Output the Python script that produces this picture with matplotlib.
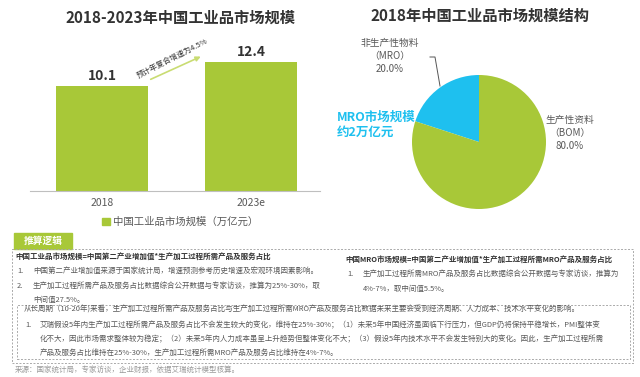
import matplotlib
matplotlib.use('Agg')
import matplotlib.pyplot as plt
from matplotlib.patches import Rectangle, Patch

plt.rcParams['font.family'] = ['Noto Sans CJK SC', 'DejaVu Sans']

# Data
years = ['2018', '2023e']
market_size = [10.1, 12.4]
bar_legend = '中国工业品市场规模（万亿元）'
cagr_note = '预计年复合增速为4.5%'

pie_labels = ['非生产性物料\n（MRO）', '生产性资料\n（BOM）']
pie_shares = [20.0, 80.0]

W, H = 640, 377
GREEN = '#a8c838'
BLUE = '#1ec0ef'
DARK = '#333333'
GRAY = '#595959'


def fx(x):
    return x / W


def fy(y):
    return 1 - y / H


fig = plt.figure(figsize=(6.4, 3.77), dpi=100)

# Left: bar chart
ax = fig.add_axes([fx(30), fy(191), fx(290), (191 - 45) / H])
xpos = range(len(years))
ax.bar(xpos, market_size, width=0.62, color=GREEN, label=bar_legend)
ax.set_xlim(-0.483, 1.463)
ax.set_ylim(0, 14)
ax.set_yticks([])
ax.set_xticks(list(xpos))
ax.set_xticklabels(years, color=GRAY, fontsize=7.5)
ax.tick_params(axis='x', length=0, pad=5)
for s in ['top', 'right', 'left']:
    ax.spines[s].set_visible(False)
ax.spines['bottom'].set_color('#bfbfbf')
for i, v in enumerate(market_size):
    ax.text(i, v + 0.25, f'{v}', ha='center', va='bottom', fontsize=10,
            fontweight='bold', color=DARK)
ax.annotate('', xy=(0.68, 13.0), xytext=(0.31, 10.6),
            arrowprops=dict(arrowstyle='-|>', color='#c9dc72', lw=1.2,
                            mutation_scale=7))
ax.text(0.47, 12.75, cagr_note, rotation=27, ha='center', va='center',
        fontsize=5.5, color=DARK)
ax.legend(handles=[Patch(color=GREEN, label=bar_legend)], loc='center',
          bbox_to_anchor=(fx(180), fy(222)), bbox_transform=fig.transFigure,
          frameon=False, fontsize=7.5, handlelength=0.8, handleheight=0.8,
          handletextpad=0.3, labelcolor=GRAY)
fig.text(fx(180), fy(18), '2018-2023年中国工业品市场规模', ha='center',
         va='center', fontsize=11, fontweight='bold', color=DARK)

# Right: pie chart
pax = fig.add_axes([fx(412), fy(209), fx(134), 134 / H])
pax.pie(pie_shares, colors=[BLUE, GREEN], startangle=90, counterclock=True,
        radius=1.0)
pax.set_xlim(-1, 1)
pax.set_ylim(-1, 1)
fig.text(fx(480), fy(16), '2018年中国工业品市场规模结构', ha='center',
         va='center', fontsize=11, fontweight='bold', color=DARK)
fig.text(fx(390), fy(56), f'{pie_labels[0]}\n{pie_shares[0]:.1f}%',
         ha='center', va='center', fontsize=7, color=GRAY, linespacing=1.35)
fig.text(fx(570), fy(133), f'{pie_labels[1]}\n{pie_shares[1]:.1f}%',
         ha='center', va='center', fontsize=7, color=GRAY, linespacing=1.35)
fig.add_artist(plt.Line2D([fx(440), fx(435), fx(430)],
                          [fy(86), fy(57), fy(57)], color='#555555', lw=0.7))
fig.text(fx(337), fy(125), 'MRO市场规模\n约2万亿元', ha='left', va='center',
         fontsize=9, fontweight='bold', color=BLUE, linespacing=1.2)

# Bottom: logic box
dash = (0, (2.0, 1.6))
fig.add_artist(Rectangle((fx(14), fy(249)), fx(58), 16 / H, color=GREEN,
                         transform=fig.transFigure))
fig.text(fx(43), fy(241), '推算逻辑', ha='center', va='center', fontsize=7,
         fontweight='bold', color='white')
fig.add_artist(Rectangle((fx(12), fy(363)), fx(621), (363 - 249) / H,
                         fill=False, ec='#aaaaaa', lw=0.7, ls=dash,
                         transform=fig.transFigure))
fig.add_artist(Rectangle((fx(17), fy(359)), fx(613), (359 - 305) / H,
                         fill=False, ec='#aaaaaa', lw=0.7, ls=dash,
                         transform=fig.transFigure))

fs = 5.4
left_lines = [
    (15, 256, '中国工业品市场规模=中国第二产业增加值*生产加工过程所需产品及服务占比', True),
    (17, 271, '1.', False),
    (33, 271, '中国第二产业增加值来源于国家统计局，增速预测参考历史增速及宏观环境因素影响。', False),
    (17, 286, '2.', False),
    (33, 286, '生产加工过程所需产品及服务占比数据综合公开数据与专家访谈，推算为25%-30%，取', False),
    (33, 300, '中间值27.5%。', False),
    (345, 259, '中国MRO市场规模=中国第二产业增加值*生产加工过程所需MRO产品及服务占比', True),
    (347, 274, '1.', False),
    (363, 274, '生产加工过程所需MRO产品及服务占比数据综合公开数据与专家访谈，推算为', False),
    (363, 289, '4%-7%，取中间值5.5%。', False),
    (24, 310, '从长周期（10-20年)来看，生产加工过程所需产品及服务占比与生产加工过程所需MRO产品及服务占比数据未来主要会受到经济周期、人力成本、技术水平变化的影响。', False),
    (25, 325, '1.', False),
    (40, 325, '艾瑞假设5年内生产加工过程所需产品及服务占比不会发生较大的变化，维持在25%-30%；（1）未来5年中国经济虽面临下行压力，但GDP仍将保持平稳增长，PMI整体变', False),
    (40, 339, '化不大，因此市场需求整体较为稳定；（2）未来5年内人力成本虽呈上升趋势但整体变化不大；（3）假设5年内技术水平不会发生特别大的变化。因此，生产加工过程所需', False),
    (40, 353, '产品及服务占比维持在25%-30%，生产加工过程所需MRO产品及服务占比维持在4%-7%。', False),
]
for x, y, s, bold in left_lines:
    fig.text(fx(x), fy(y), s, ha='left', va='center', fontsize=fs,
             fontweight='bold' if bold else 'normal',
             color=DARK if bold else GRAY)

fig.text(fx(15), fy(370), '来源：国家统计局，专家访谈，企业财报，依据艾瑞统计模型核算。',
         ha='left', va='center', fontsize=fs, color='#999999')

fig.savefig('out.png', dpi=100)
